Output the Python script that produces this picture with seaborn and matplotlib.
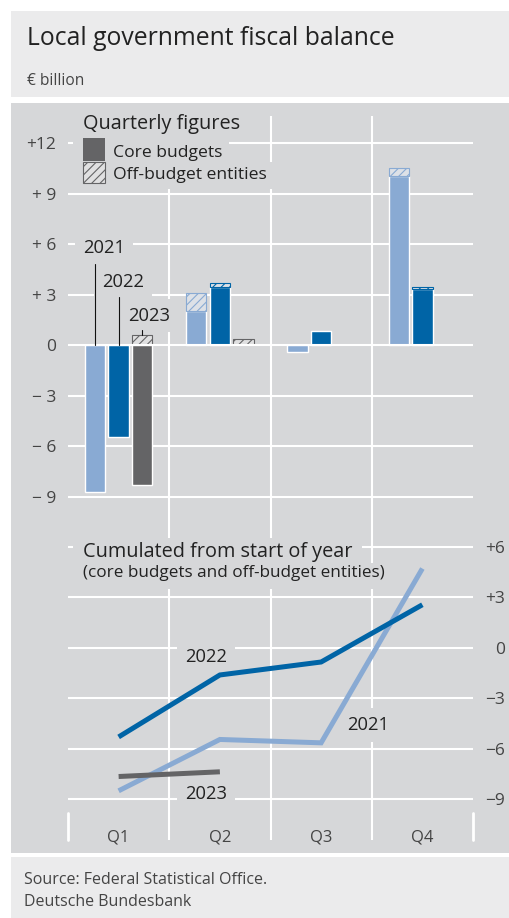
import numpy as np
import pandas as pd
import matplotlib
matplotlib.use("Agg")
import matplotlib.pyplot as plt
import matplotlib.transforms as mtransforms
from matplotlib.patches import Rectangle
import seaborn as sns

# ---------------- data ----------------
quarters = ["Q1", "Q2", "Q3", "Q4"]
years = ["2021", "2022", "2023"]

core_2021 = [-8.68, 2.03, -0.38, 10.06]
off_2021 = [0.0, 1.05, 0.0, 0.44]
core_2022 = [-5.46, 3.44, 0.85, 3.35]
off_2022 = [0.0, 0.27, 0.0, 0.12]
core_2023 = [-8.29, 0.0, np.nan, np.nan]
off_2023 = [0.59, 0.35, np.nan, np.nan]

cum_2021 = [-8.5, -5.45, -5.65, 4.7]
cum_2022 = [-5.3, -1.62, -0.85, 2.55]
cum_2023 = [-7.65, -7.37, np.nan, np.nan]

top_ticks = [12, 9, 6, 3, 0, -3, -6, -9]
top_tick_labels = ["+12", "+ 9", "+ 6", "+ 3", "0", "\u2212 3", "\u2212 6", "\u2212 9"]
bottom_ticks = [6, 3, 0, -3, -6, -9]
bottom_tick_labels = ["+6", "+3", "0", "\u22123", "\u22126", "\u22129"]

title = "Local government fiscal balance"
unit = "\u20ac billion"
top_title = "Quarterly figures"
legend_core = "Core budgets"
legend_off = "Off-budget entities"
bottom_title = "Cumulated from start of year"
bottom_subtitle = "(core budgets and off-budget entities)"
source_lines = ["Source: Federal Statistical Office.", "Deutsche Bundesbank"]

# ---------------- style ----------------
colors = {"2021": "#89aad3", "2022": "#0064a6", "2023": "#646466"}
hatch_bg = {"2021": "#dde1e7", "2022": "#dde1e7", "2023": "#e0e0e1"}
panel_bg = "#d6d7d9"
header_bg = "#ebebec"
text_dark = "#222222"
text_gray = "#444444"

sns.set_style("white")
plt.rcParams["font.family"] = ["Open Sans", "DejaVu Sans"]
plt.rcParams["hatch.linewidth"] = 0.8

core_df = pd.DataFrame({
    "quarter": quarters * 3,
    "year": [y for y in years for _ in quarters],
    "core": core_2021 + core_2022 + core_2023,
    "off": off_2021 + off_2022 + off_2023,
})
cum_df = pd.DataFrame({
    "qi": list(range(4)) * 3,
    "year": [y for y in years for _ in quarters],
    "cum": cum_2021 + cum_2022 + cum_2023,
}).dropna()

W, H = 509, 918
fig = plt.figure(figsize=(W / 100, H / 100), dpi=100)
PX = mtransforms.Affine2D().scale(1 / W, -1 / H).translate(0, 1) + fig.transFigure

# background blocks
fig.patches.append(Rectangle((11, 11), W - 11, 86, transform=PX, facecolor=header_bg, edgecolor="none", zorder=-5))
fig.patches.append(Rectangle((11, 103), W - 11, 750, transform=PX, facecolor=panel_bg, edgecolor="none", zorder=-5))
fig.patches.append(Rectangle((11, 857), W - 11, 61, transform=PX, facecolor=header_bg, edgecolor="none", zorder=-5))

fig.text(27, 45, title, transform=PX, fontsize=17.8, color=text_dark, va="baseline")
fig.text(27, 85, unit, transform=PX, fontsize=11.2, color=text_gray, va="baseline")
fig.text(24, 884, source_lines[0], transform=PX, fontsize=11.5, color=text_gray, va="baseline")
fig.text(24, 906, source_lines[1], transform=PX, fontsize=11.5, color=text_gray, va="baseline")


def mask(ax, x0, y0, x1, y1):
    ax.add_patch(Rectangle((x0, y0), x1 - x0, y1 - y0, transform=PX, facecolor=panel_bg,
                           edgecolor="none", zorder=0.9, clip_on=False))


# ---------------- top chart ----------------
ax1 = fig.add_axes([68 / W, 1 - 522 / H, 405 / W, (522 - 116) / H])
ax1.set_facecolor("none")
WIDTH, GAP = 0.7, 0.14
sns.barplot(data=core_df, x="quarter", y="core", hue="year", order=quarters, hue_order=years,
            palette=colors, width=WIDTH, gap=GAP, saturation=1, errorbar=None, legend=False,
            ax=ax1, zorder=2)
slot = WIDTH / len(years)
bw = slot * (1 - GAP)
for i, y in enumerate(years):
    sub = core_df[core_df.year == y]
    for qi, (c, o) in enumerate(zip(sub.core, sub.off)):
        if np.isnan(o) or o <= 0:
            continue
        ax1.bar(qi + (i - 1) * slot, o, bottom=max(c, 0), width=bw, facecolor=hatch_bg[y],
                edgecolor=colors[y], hatch="////", linewidth=0.8, zorder=2.5)

for t in top_ticks:
    ax1.axhline(t, color="white", lw=1.5, zorder=4 if t == 0 else 0.5)
for b in [0.5, 1.5, 2.5]:
    ax1.axvline(b, color="white", lw=1.5, zorder=0.5)
ax1.set_xlim(-0.5, 3.5)
ax1.set_ylim(-10.48, 13.60)
ax1.set_xticks([])
ax1.set_yticks(top_ticks, top_tick_labels)
ax1.tick_params(axis="y", length=0, pad=8.6, labelsize=12.5, labelcolor=text_gray)
ax1.set_xlabel("")
ax1.set_ylabel("")
for s in ax1.spines.values():
    s.set_visible(False)

box = dict(boxstyle="square,pad=0.42", facecolor=panel_bg, edgecolor="none")
# legend block
mask(ax1, 73, 108, 246, 138)
mask(ax1, 73, 138, 229, 162)
mask(ax1, 73, 162, 275, 189)
ax1.text(83, 129, top_title, transform=PX, fontsize=14.3, color=text_dark, va="baseline", zorder=1)
ax1.add_patch(Rectangle((83, 138), 22, 23, transform=PX, facecolor=colors["2023"], edgecolor="none", zorder=1.2, clip_on=False))
ax1.add_patch(Rectangle((83, 161.5), 22, 21.5, transform=PX, facecolor=hatch_bg["2023"], edgecolor=colors["2023"],
                        hatch="////", linewidth=0.8, zorder=1.2, clip_on=False))
ax1.text(113, 157, legend_core, transform=PX, fontsize=12.6, color=text_dark, va="baseline", zorder=1)
ax1.text(113, 179, legend_off, transform=PX, fontsize=12.6, color=text_dark, va="baseline", zorder=1)

# year labels with leader lines
lab_pos = {"2021": (83, 252.7, 264), "2022": (102, 286.7, 297), "2023": (127.7, 320.7, 330)}
for i, y in enumerate(years):
    lx, lbase, ltop = lab_pos[y]
    ax1.text(lx, lbase, y, transform=PX, fontsize=13.2, color=text_dark, va="baseline", zorder=1, bbox=box)
    sub = core_df[core_df.year == y]
    c0, o0 = sub.core.iloc[0], sub.off.iloc[0]
    top_val = max(c0, 0) + (o0 if o0 > 0 else 0)
    xq = 0 + (i - 1) * slot
    ax1.plot([xq, xq], [top_val, (345.3 - ltop) / 16.857], color="#111111", lw=0.8, zorder=4.5)

# ---------------- bottom chart ----------------
ax2 = fig.add_axes([68 / W, 1 - 840 / H, 405 / W, (840 - 522) / H])
ax2.set_facecolor("none")
sns.lineplot(data=cum_df, x="qi", y="cum", hue="year", hue_order=years, palette=colors,
             lw=3.6, sort=False, legend=False, ax=ax2, zorder=3)
for ln in ax2.lines:
    ln.set_solid_capstyle("butt")
    ln.set_solid_joinstyle("miter")

for t in bottom_ticks:
    ax2.axhline(t, color="white", lw=1.5, zorder=0.5)
for b in [0.5, 1.5, 2.5]:
    ax2.axvline(b, color="white", lw=1.5, zorder=0.5)
for b in [-0.5, 3.5]:
    ax2.axvline(b, ymin=0, ymax=27 / 318, color="white", lw=2, zorder=0.5, clip_on=False)
ax2.set_xlim(-0.5, 3.5)
ax2.set_ylim(-11.42, 7.464)
ax2.set_xticks([])
ax2.yaxis.tick_right()
ax2.set_yticks(bottom_ticks, bottom_tick_labels)
ax2.tick_params(axis="y", length=0, pad=23, labelsize=12.5, labelcolor=text_gray)
for lab in ax2.get_yticklabels():
    lab.set_ha("right")
ax2.set_xlabel("")
ax2.set_ylabel("")
for s in ax2.spines.values():
    s.set_visible(False)

bl2 = mtransforms.blended_transform_factory(ax2.transData, PX)
for qi, q in enumerate(quarters):
    ax2.text(qi, 841, q, transform=bl2, fontsize=12, color=text_gray, ha="center", va="baseline")

mask(ax2, 73, 538, 362, 563)
mask(ax2, 73, 563, 401, 589)
ax2.text(83, 556.7, bottom_title, transform=PX, fontsize=14.3, color=text_dark, va="baseline", zorder=1)
ax2.text(83, 576.7, bottom_subtitle, transform=PX, fontsize=12.3, color=text_dark, va="baseline", zorder=1)
ax2.text(185, 661.7, "2022", transform=PX, fontsize=13.2, color=text_dark, va="baseline", zorder=1, bbox=box)
ax2.text(347, 730, "2021", transform=PX, fontsize=13.2, color=text_dark, va="baseline", zorder=1, bbox=box)
ax2.text(185, 799.3, "2023", transform=PX, fontsize=13.2, color=text_dark, va="baseline", zorder=1, bbox=box)

fig.savefig("out.png", dpi=100)
